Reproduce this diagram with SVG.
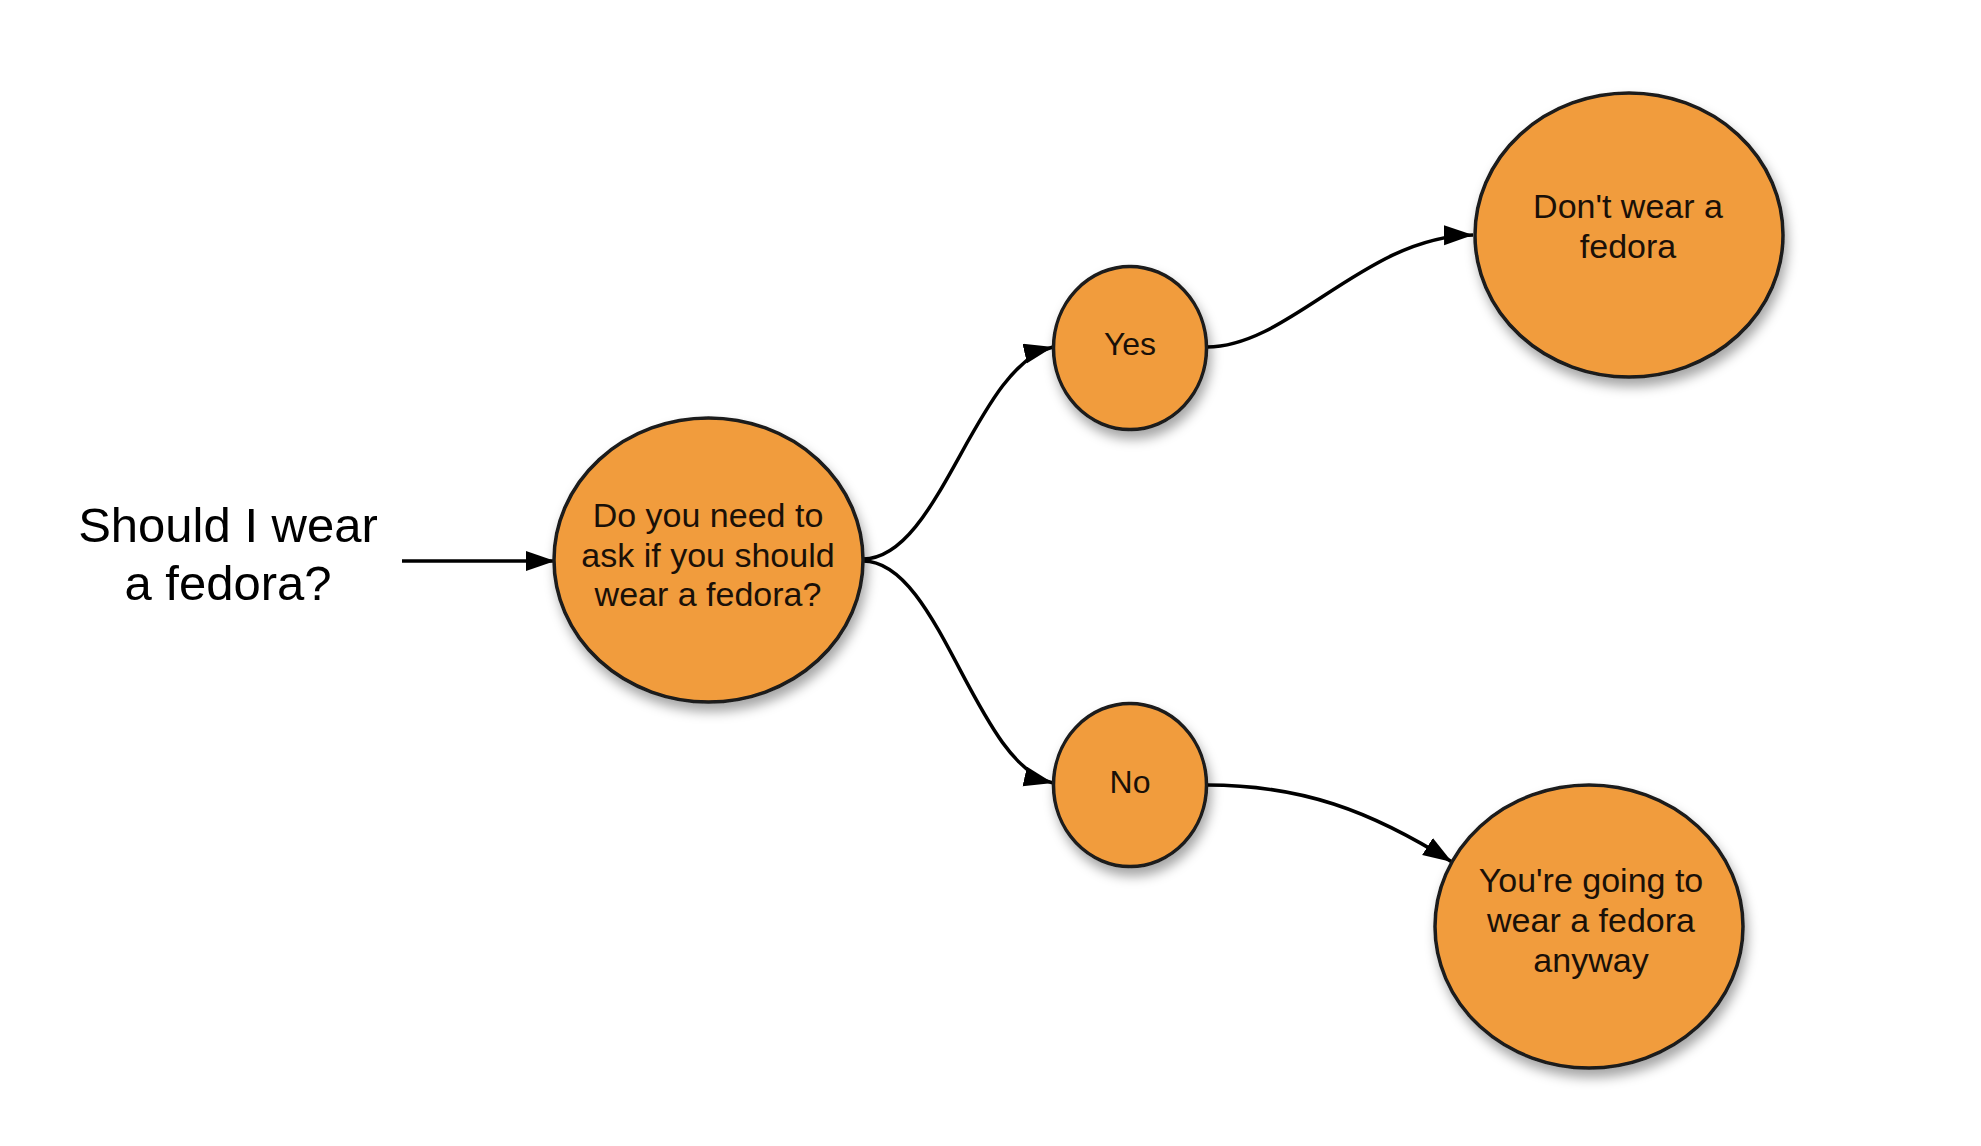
<svg xmlns="http://www.w3.org/2000/svg" width="1981" height="1146" viewBox="0 0 1981 1146">
  <style>
    .node ellipse { fill: #F19C3E; stroke: #1a1a1a; stroke-width: 3.5; filter: url(#shadow); }
    .node text { font-family: "Liberation Sans", Arial, sans-serif; fill: #1a1008; text-anchor: middle; }
    .big text { font-size: 34px; }
    .small text { font-size: 32px; }
    .title { font-family: "Liberation Sans", Arial, sans-serif; font-size: 49px; fill: #000; text-anchor: middle; }
    .edge { fill: none; stroke: #000; stroke-width: 3.5; marker-end: url(#arrow); }
  </style>
  <defs>
    <filter id="shadow" x="-20%" y="-20%" width="150%" height="150%">
      <feDropShadow dx="3" dy="8" stdDeviation="6" flood-color="#000" flood-opacity="0.35"/>
    </filter>
    <marker id="arrow" markerUnits="userSpaceOnUse" markerWidth="32" markerHeight="22" refX="29" refY="10" orient="auto">
      <path d="M0,0 L29,10 L0,20 z" fill="#000"/>
    </marker>
  </defs>

  <rect width="1981" height="1146" fill="#fff"/>

  <!-- question label on the left -->
  <text class="title" x="228" y="542">Should I wear</text>
  <text class="title" x="228" y="600">a fedora?</text>

  <!-- connectors -->
  <g id="connectors">
    <path class="edge" d="M402 561 L555 561"/>
    <path class="edge" d="M863 559 C940 559, 975 365, 1053 347"/>
    <path class="edge" d="M863 561 C940 561, 975 765, 1053 783"/>
    <path class="edge" d="M1207 347 C1290 347, 1365 236, 1473 235"/>
    <path class="edge" d="M1207 785 C1300 785, 1370 810, 1452 862"/>
  </g>

  <g id="node-ask" class="node big">
    <ellipse cx="708.5" cy="560" rx="154.5" ry="142"/>
    <text x="708" y="527">Do you need to</text>
    <text x="708" y="567">ask if you should</text>
    <text x="708" y="606">wear a fedora?</text>
  </g>

  <g id="node-yes" class="node small">
    <ellipse cx="1130" cy="348" rx="76.5" ry="81.5"/>
    <text x="1130" y="355">Yes</text>
  </g>

  <g id="node-no" class="node small">
    <ellipse cx="1130" cy="785" rx="76.5" ry="81.5"/>
    <text x="1130" y="793">No</text>
  </g>

  <g id="node-dont" class="node big">
    <ellipse cx="1629" cy="235" rx="154" ry="142"/>
    <text x="1628" y="218">Don't wear a</text>
    <text x="1628" y="258">fedora</text>
  </g>

  <g id="node-anyway" class="node big">
    <ellipse cx="1589" cy="926.5" rx="154" ry="141.5"/>
    <text x="1591" y="892">You're going to</text>
    <text x="1591" y="932">wear a fedora</text>
    <text x="1591" y="972">anyway</text>
  </g>
</svg>
